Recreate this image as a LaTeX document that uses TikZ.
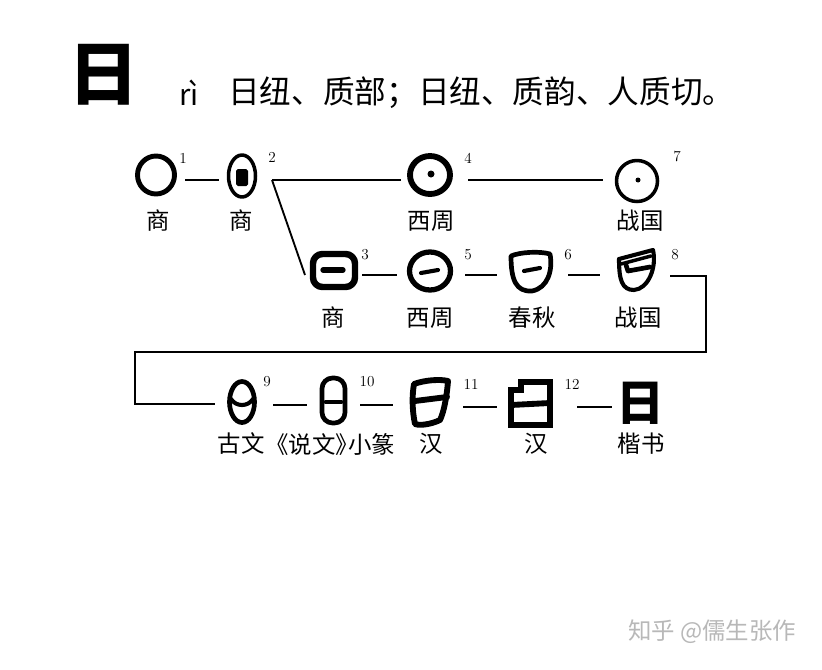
\documentclass[tikz,border=0pt]{standalone}
\usepackage{fontspec}
\newfontfamily\cjk{Noto Sans CJK SC}
\begin{document}
\begin{tikzpicture}[x=0.03cm,y=-0.03cm,
  conn/.style={line width=1.6pt},
  num/.style={font=\fontsize{13}{13}\selectfont, inner sep=0pt},
  lbl/.style={font=\cjk\fontsize{20}{20}\selectfont, inner sep=0pt},
  glyphstroke/.style={line width=#1, line join=round, line cap=round},
  wm/.style={font=\cjk\fontsize{20}{20}\selectfont, text=black!28, inner sep=0pt}]
\fill[white] (0,0) rectangle (822,669);
\useasboundingbox (0,0) rectangle (822,669);

% ---------- header ----------
\node[font=\cjk\bfseries\fontsize{59}{59}\selectfont, inner sep=0pt, xscale=1.02] (head) at (104,75) {日};
\node[font=\cjk\fontsize{25}{25}\selectfont, inner sep=0pt] (pinyin) at (189,93) {rì};
\node[font=\cjk\fontsize{27}{27}\selectfont, inner sep=0pt, anchor=west] (fanqie) at (228,93) {日纽、质部；日纽、质韵、人质切。};

% ---------- connector points ----------
\coordinate (a1) at (185,180);  \coordinate (a2) at (219,180);
\coordinate (b2) at (272,180);  \coordinate (b4) at (401,180);
\coordinate (d3) at (305,275);
\coordinate (e4) at (468,180);  \coordinate (e7) at (603,180);
\coordinate (f3) at (362,275);  \coordinate (f5) at (397,275);
\coordinate (g5) at (465,275);  \coordinate (g6) at (497,275);
\coordinate (h6) at (568,275);  \coordinate (h8) at (600,275);
\coordinate (k8) at (670,276);  \coordinate (k9) at (215,404);
\coordinate (m9) at (273,405);  \coordinate (m10) at (307,405);
\coordinate (n10) at (360,405); \coordinate (n11) at (393,405);
\coordinate (p11) at (463,407); \coordinate (p12) at (497,407);
\coordinate (q12) at (577,407); \coordinate (q13) at (612,407);

\draw[conn] (a1) -- (a2);
\draw[conn] (b2) -- (b4);
\draw[conn] (b2) -- (d3);
\draw[conn] (e4) -- (e7);
\draw[conn] (f3) -- (f5);
\draw[conn] (g5) -- (g6);
\draw[conn] (h6) -- (h8);
\draw[conn] (k8) -- (706,276) -- (706,352) -- (135,352) -- (135,404) -- (k9);
\draw[conn] (m9) -- (m10);
\draw[conn] (n10) -- (n11);
\draw[conn] (p11) -- (p12);
\draw[conn] (q12) -- (q13);

% ---------- glyphs row 1 ----------
% 1
\draw[glyphstroke=4.2pt] (156,175) ellipse [x radius=18.5, y radius=19];
% 2
\draw[glyphstroke=3pt] (242,176) ellipse [x radius=13.5, y radius=21];
\fill[rounded corners=1.5pt] (236,169) rectangle (248,186);
% 4
\draw[glyphstroke=5pt] (430,175) ellipse [x radius=20, y radius=19];
\fill (431,174) circle (3.5);
% 7
\draw[glyphstroke=3pt] (637,181) ellipse [x radius=20.5, y radius=20.5];
\fill (638,180) circle (2.5);

% ---------- glyphs row 2 ----------
% 3
\draw[glyphstroke=5.5pt, rounded corners=8pt] (313,254) rectangle (355,287);
\draw[glyphstroke=4.5pt] (323,270) -- (343,270);
% 5
\draw[glyphstroke=4.5pt] (430,271) ellipse [x radius=20.5, y radius=19];
\draw[glyphstroke=3.5pt] (421,273) -- (438,270);
% 6
\draw[glyphstroke=4pt] (511,256) .. controls (520,252) and (540,251) .. (550,254)
   .. controls (553,270) and (548,288) .. (532,291)
   .. controls (516,292) and (511,280) .. (511,256) -- cycle;
\draw[glyphstroke=3.5pt] (524,271) -- (540,268);
% 8
\draw[glyphstroke=3.5pt] (619,259) -- (653,250)
   .. controls (657,268) and (648,289) .. (634,290)
   .. controls (622,290) and (619,280) .. (619,259);
\draw[glyphstroke=3pt] (621,264) -- (651,256);
\draw[glyphstroke=4pt] (626,265) -- (628,271) -- (650,267);

% ---------- glyphs row 3 ----------
% 9
\draw[glyphstroke=4pt] (242,402) ellipse [x radius=12.5, y radius=20.5];
\draw[glyphstroke=3.5pt] (231,399) .. controls (236,407) and (248,407) .. (253,399);
% 10
\draw[glyphstroke=4pt, rounded corners=9pt] (322,378) rectangle (345,423);
\draw[glyphstroke=4pt] (326,402) -- (341,402);
% 11
\draw[glyphstroke=5pt] (414,384) .. controls (425,380) and (440,379) .. (448,381)
   .. controls (447,395) and (444,412) .. (440,420)
   .. controls (432,424) and (420,426) .. (415,424)
   .. controls (412,410) and (412,395) .. (414,384) -- cycle;
\draw[glyphstroke=5pt] (415,401) -- (447,397);
% 12
\draw[line width=5pt, line join=miter] (511,425) -- (511,390) -- (521,390) -- (521,382) -- (550,382) -- (550,425) -- cycle;
\draw[line width=5pt] (511,405) -- (550,403);
% 13
\node[font=\cjk\bfseries\fontsize{41}{41}\selectfont, inner sep=0pt] (kai) at (641,403) {日};

% ---------- numbers ----------
\node[num] (n1) at (183,158) {1};
\node[num] (n2) at (272,157) {2};
\node[num] (n4) at (468,158) {4};
\node[num] (n7) at (677,157) {7};
\node[num] (n3) at (365,255) {3};
\node[num] (n5) at (468,255) {5};
\node[num] (n6) at (568,255) {6};
\node[num] (n8) at (675,255) {8};
\node[num] (n9) at (267,382) {9};
\node[num] (n10) at (367,382) {10};
\node[num] (n11) at (471,384) {11};
\node[num] (n12) at (572,384) {12};

% ---------- labels ----------
\node[lbl] (l1) at (158,221) {商};
\node[lbl] (l2) at (241,221) {商};
\node[lbl] (l4) at (431,221) {西周};
\node[lbl] (l7) at (640,221) {战国};
\node[lbl] (l3) at (333,318) {商};
\node[lbl] (l5) at (430,318) {西周};
\node[lbl] (l6) at (532,318) {春秋};
\node[lbl] (l8) at (638,318) {战国};
\node[lbl] (l9) at (241,444) {古文};
\node[lbl] (l10) at (335,444) {\kern-0.4em《说文》\kern-0.45em小篆};
\node[lbl] (l11) at (431,444) {汉};
\node[lbl] (l12) at (536,444) {汉};
\node[lbl] (l13) at (641,444) {楷书};

% ---------- watermark ----------
\node[wm] (mark) at (712,632) {知乎 @儒生张作};
\end{tikzpicture}
\end{document}
